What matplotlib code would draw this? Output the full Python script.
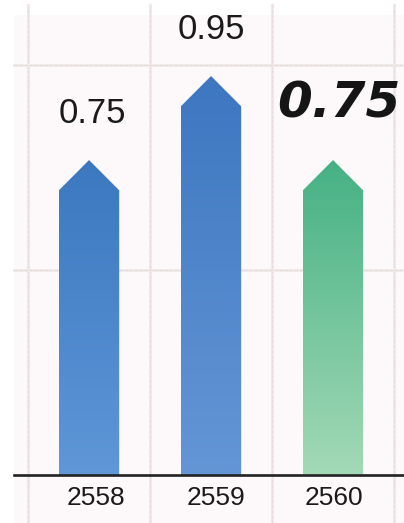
import numpy as np
import matplotlib
matplotlib.use("Agg")
import matplotlib.pyplot as plt
from matplotlib.colors import LinearSegmentedColormap
from matplotlib.patches import Polygon

years = ["2558", "2559", "2560"]
values = [0.75, 0.95, 0.75]
value_labels = ["0.75", "0.95", "0.75"]
top_colors = ["#3b78bf", "#3d77c0", "#45b184"]
bottom_colors = ["#5f97d8", "#6496d6", "#a3d9b6"]
grid_y = [0.488, 0.976]
grid_x = [-0.5, 0.5, 1.5, 2.5]

fig = plt.figure(figsize=(4.04, 5.23), dpi=100)
ax = fig.add_axes([0, 0, 1, 1])
ax.set_xlim(-0.73, 2.582)
ax.set_ylim(-0.114, 1.131)
ax.axis("off")

# pale paper behind the plot
ax.axvspan(-0.615, 2.582, ymin=0, ymax=0.971, color="#fdf8f9", lw=0, zorder=0)

# hand drawn looking grid
for x in grid_x:
    ax.plot([x, x], [-0.114, 1.12], color="#efe9ea", lw=2.2, zorder=1)
    ax.plot([x, x], [-0.114, 1.12], color="#ecd9db", lw=0.6, ls=(0, (4, 2)), zorder=1)
for y in grid_y:
    ax.plot([-0.615, 2.582], [y, y], color="#efeaea", lw=2.0, zorder=1)
    ax.plot([-0.615, 2.582], [y, y], color="#ebd6d8", lw=0.6, ls=(0, (4, 2)), zorder=1)

half_width = 0.247
shoulder = 0.072
for i, v in enumerate(values):
    pts = [(i - half_width, 0), (i - half_width, v - shoulder), (i, v),
           (i + half_width, v - shoulder), (i + half_width, 0)]
    cmap = LinearSegmentedColormap.from_list("bar", [top_colors[i], bottom_colors[i]])
    img = ax.imshow(np.linspace(0, 1, 256).reshape(-1, 1), cmap=cmap, aspect="auto",
                    extent=(i - half_width, i + half_width, 0, v), zorder=2)
    img.set_clip_path(Polygon(pts, transform=ax.transData))
ax.set_xlim(-0.73, 2.582)
ax.set_ylim(-0.114, 1.131)

# baseline
ax.plot([-0.615, 2.582], [0, 0], color="#222222", lw=1.9, zorder=3)

sans = "Liberation Sans"
for i, (year, off) in enumerate(zip(years, [0.057, 0.037, 0.01])):
    ax.text(i + off, -0.055, year, family=sans, fontsize=19, color="#1a1a1a",
            ha="center", va="center", zorder=4)

ax.text(0.03, 0.862, value_labels[0], family=sans, fontsize=25, color="#1a1a1a",
        ha="center", va="center", zorder=4)
ax.text(1.005, 1.061, value_labels[1], family=sans, fontsize=25, color="#1a1a1a",
        ha="center", va="center", zorder=4)
ax.text(2.05, 0.885, value_labels[2], family="DejaVu Sans", fontsize=36, color="#151515",
        fontweight="bold", fontstyle="italic", ha="center", va="center", zorder=4)

fig.savefig("out.png", dpi=100)
